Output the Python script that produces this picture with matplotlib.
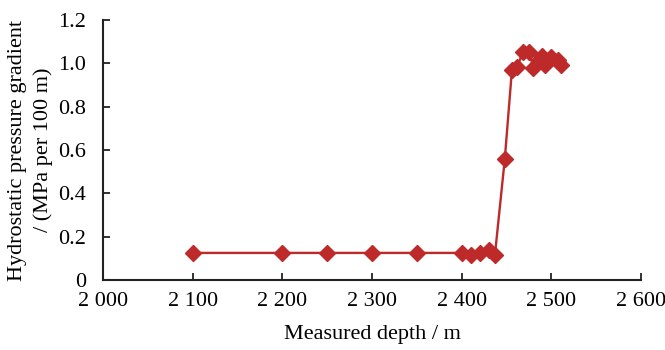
import matplotlib.pyplot as plt
from matplotlib.ticker import FuncFormatter

# measured depth (m) and hydrostatic pressure gradient (MPa per 100 m)
depth = [2100, 2200, 2250, 2300, 2350, 2400, 2410, 2420, 2430, 2437,
         2448, 2456, 2462, 2468, 2475, 2480, 2486, 2489, 2493, 2500, 2507, 2511]
gradient = [0.125, 0.125, 0.125, 0.125, 0.125, 0.125, 0.115, 0.125, 0.14, 0.115,
            0.557, 0.97, 0.985, 1.05, 1.05, 0.98, 1.015, 1.035, 0.99, 1.03, 1.015, 0.99]

xticks = [2000, 2100, 2200, 2300, 2400, 2500, 2600]
yticks = [0, 0.2, 0.4, 0.6, 0.8, 1.0, 1.2]

plt.rcParams['font.family'] = ['Liberation Serif', 'DejaVu Serif']

fig = plt.figure(figsize=(6.65, 3.5), dpi=100)
ax = fig.add_axes([0.155, 0.2, 0.809, 0.743])

red = '#BE2A2A'
ax.plot(depth, gradient, color=red, linewidth=1.7, marker='D',
        markersize=8, markerfacecolor=red, markeredgecolor=red)

ax.set_xlim(2000, 2600)
ax.set_ylim(0, 1.2)
ax.set_xticks(xticks)
ax.set_yticks(yticks)
ax.xaxis.set_major_formatter(FuncFormatter(lambda v, p: '{:,}'.format(int(v)).replace(',', ' ')))
ax.yaxis.set_major_formatter(FuncFormatter(lambda v, p: '0' if v == 0 else '%.1f' % v))

for s in ['top', 'right']:
    ax.spines[s].set_visible(False)
for s in ['left', 'bottom']:
    ax.spines[s].set_color('#222222')
    ax.spines[s].set_linewidth(1.5)
ax.tick_params(direction='in', length=5, width=1.3, color='#222222',
               labelsize=16)
ax.tick_params(axis='y', pad=12)
ax.tick_params(axis='x', pad=9)

ax.set_xlabel('Measured depth / m', fontsize=16, labelpad=10)
ax.set_ylabel('Hydrostatic pressure gradient\n/ (MPa per 100 m)', fontsize=16,
              linespacing=1.45, labelpad=4)

fig.savefig('out.png', dpi=100)
